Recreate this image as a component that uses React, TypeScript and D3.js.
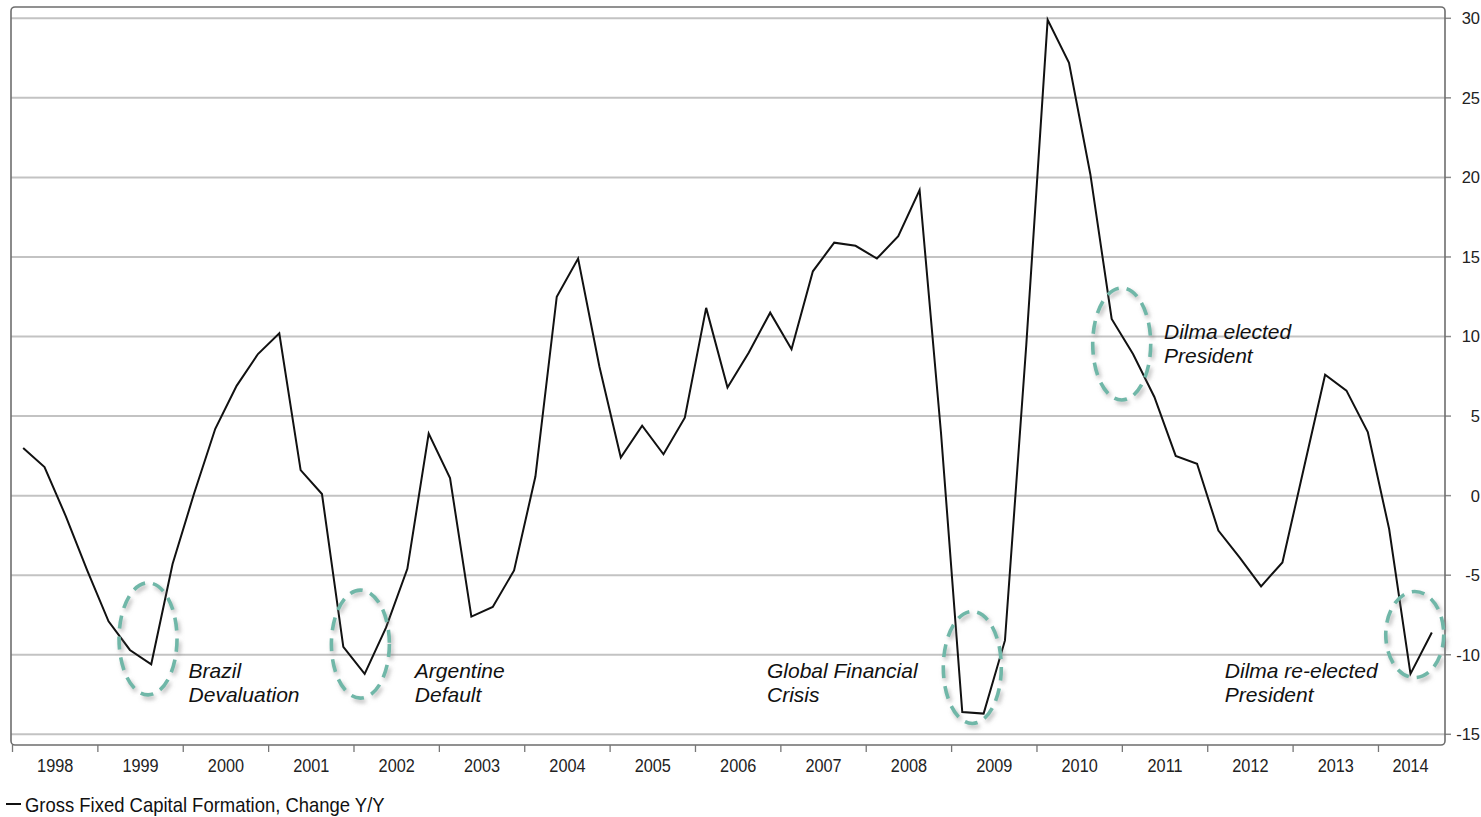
import React from "react";
import * as d3 from "d3";

// Brazil gross fixed capital formation, % change year on year, quarterly 1998Q1–2014Q3
const years = [
  "1998", "1999", "2000", "2001", "2002", "2003", "2004", "2005", "2006",
  "2007", "2008", "2009", "2010", "2011", "2012", "2013", "2014",
];

const gfcfYoY = [
  3.0, 1.8, -1.3, -4.7, // 1998
  -7.9, -9.7, -10.6, -4.3, // 1999
  0.1, 4.2, 6.9, 8.9, // 2000
  10.2, 1.6, 0.1, -9.5, // 2001
  -11.2, -8.3, -4.6, 3.9, // 2002
  1.1, -7.6, -7.0, -4.7, // 2003
  1.2, 12.5, 14.9, 8.1, // 2004
  2.4, 4.4, 2.6, 4.9, // 2005
  11.8, 6.8, 9.0, 11.5, // 2006
  9.2, 14.1, 15.9, 15.7, // 2007
  14.9, 16.3, 19.2, 4.0, // 2008
  -13.6, -13.7, -9.1, 9.5, // 2009
  29.9, 27.2, 20.2, 11.1, // 2010
  8.9, 6.2, 2.5, 2.0, // 2011
  -2.2, -3.9, -5.7, -4.2, // 2012
  1.7, 7.6, 6.6, 4.0, // 2013
  -2.1, -11.2, -8.6, // 2014
];

const yTicks = [-15, -10, -5, 0, 5, 10, 15, 20, 25, 30];

const seriesName = "Gross Fixed Capital Formation, Change Y/Y";

// Event call-outs: ellipse centre given as (quarter index, value), label anchored the same way
const events = [
  { lines: ["Brazil", "Devaluation"], q: 5.85, v: -9.0, ry: 56, tq: 7.75, tv: -11.45 },
  { lines: ["Argentine", "Default"], q: 15.8, v: -9.33, ry: 54, tq: 18.35, tv: -11.45 },
  { lines: ["Global Financial", "Crisis"], q: 44.47, v: -10.8, ry: 56, tq: 34.85, tv: -11.45 },
  { lines: ["Dilma elected", "President"], q: 51.47, v: 9.53, ry: 56, tq: 53.45, tv: 9.85 },
  { lines: ["Dilma re-elected", "President"], q: 65.2, v: -8.73, ry: 43, tq: 56.3, tv: -11.45 },
];

const W = 1481;
const H = 817;
const frame = { left: 11, top: 7, right: 1445, bottom: 745 };

export default function App() {
  const n = gfcfYoY.length;
  const x = d3
    .scaleBand<number>()
    .domain(d3.range(n))
    .range([12.5, 1442.5]);
  const qx = (q: number) => (x(0) as number) + (q + 0.5) * x.step();
  const y = d3.scaleLinear().domain([-15, 30]).range([734.3, 18.3]);

  const line = d3
    .line<number>()
    .x((_, i) => qx(i))
    .y((d) => y(d));

  const font = "'Liberation Sans', Arial, sans-serif";

  return (
    <svg
      width={W}
      height={H}
      viewBox={`0 0 ${W} ${H}`}
      style={{ position: "absolute", left: 0, top: 0, background: "#fff" }}
    >
      <defs>
        <filter id="soft-shadow" x="-30%" y="-30%" width="160%" height="160%">
          <feDropShadow dx="2" dy="3" stdDeviation="2" floodColor="#7a7a7a" floodOpacity="0.55" />
        </filter>
      </defs>

      {/* horizontal grid and right-hand value axis */}
      {yTicks.map((t) => (
        <g key={t}>
          <line
            x1={frame.left}
            x2={frame.right}
            y1={y(t)}
            y2={y(t)}
            stroke="#c3c3c3"
            strokeWidth={2}
          />
          <line x1={frame.right} x2={frame.right + 6} y1={y(t)} y2={y(t)} stroke="#8a8a8a" strokeWidth={1.5} />
          <text
            x={1480}
            y={y(t)}
            dy="0.36em"
            textAnchor="end"
            fontFamily={font}
            fontSize={16.5}
            fill="#222"
          >
            {t}
          </text>
        </g>
      ))}

      {/* plot frame */}
      <rect
        x={frame.left}
        y={frame.top}
        width={frame.right - frame.left}
        height={frame.bottom - frame.top}
        rx={4}
        fill="none"
        stroke="#6e6e6e"
        strokeWidth={1.6}
      />

      {/* year ticks and labels */}
      {years.map((yr, k) => {
        const first = 4 * k;
        const last = Math.min(4 * k + 3, n - 1);
        const start = x(first) as number;
        const end = (x(last) as number) + x.step();
        return (
          <g key={yr}>
            <line x1={start} x2={start} y1={frame.bottom} y2={frame.bottom + 7} stroke="#777" strokeWidth={1.3} />
            <text
              transform={`translate(${(start + end) / 2},771.5) scale(0.88,1)`}
              textAnchor="middle"
              fontFamily={font}
              fontSize={18.5}
              fill="#222"
            >
              {yr}
            </text>
          </g>
        );
      })}

      {/* series */}
      <path d={line(gfcfYoY) || ""} fill="none" stroke="#111" strokeWidth={2} strokeLinejoin="miter" />

      {/* event call-outs */}
      {events.map((e) => (
        <g key={e.lines[0]}>
          <ellipse
            cx={qx(e.q)}
            cy={y(e.v)}
            rx={29}
            ry={e.ry}
            fill="none"
            stroke="#70b7a8"
            strokeWidth={3.6}
            strokeDasharray="13 8"
            filter="url(#soft-shadow)"
          />
          {e.lines.map((l, i) => (
            <text
              key={l}
              x={qx(e.tq)}
              y={y(e.tv) + i * 24}
              fontFamily={font}
              fontStyle="italic"
              fontSize={21}
              fill="#111"
            >
              {l}
            </text>
          ))}
        </g>
      ))}

      {/* legend */}
      <line x1={6} x2={21} y1={804} y2={804} stroke="#111" strokeWidth={2} />
      <text
        transform="translate(25,811.5) scale(0.9,1)"
        fontFamily={font}
        fontSize={20.5}
        fill="#111"
      >
        {seriesName}
      </text>
    </svg>
  );
}
